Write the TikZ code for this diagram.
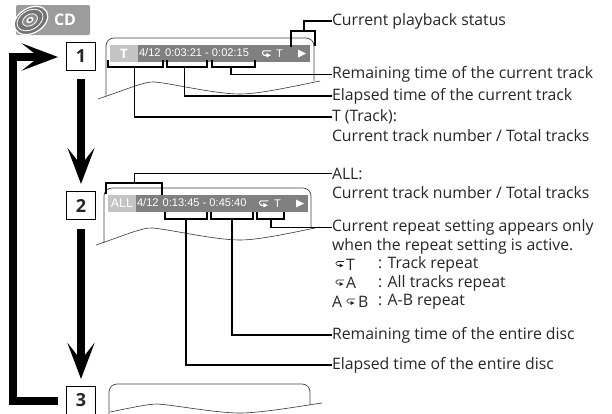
\documentclass[tikz,border=0pt]{standalone}
\usepackage{fontspec}
\setmainfont{Open Sans}
\newfontfamily\barfont{Liberation Sans}
\usetikzlibrary{arrows.meta, positioning}
\definecolor{barGray}{HTML}{808080}
\definecolor{tabGray}{HTML}{C4C4C4}
\definecolor{badgeGray}{HTML}{9C9C9C}
\begin{document}
\begin{tikzpicture}[
        x=1pt, y=-1pt,
        every node/.style={inner sep=0pt, outer sep=0pt},
        numbox/.style={draw, line width=0.9pt, fill=white, minimum width=29pt, minimum height=28pt, font=\fontsize{18}{18}\selectfont\bfseries, text=black!85},
        flow/.style={line width=8pt, -{Stealth[length=36pt, width=27pt, inset=17pt]}},
        leader/.style={line width=1.6pt, line join=miter},
        screen/.style={line width=0.7pt, draw=black!75, rounded corners=8pt},
        wave/.style={line width=0.6pt, draw=black!80},
        bar/.style={fill=barGray, minimum height=17pt, anchor=west},
        tab/.style={fill=tabGray, minimum height=17pt, anchor=west, text=white},
        bartext/.style={anchor=west, text=white, font=\barfont\fontsize{11.1}{11.1}\selectfont},
        lbl/.style={anchor=west, text=black!85, font=\fontsize{15.8}{15.8}\selectfont},
        repmark/.pic={\draw[pic actions, rounded corners=1.5pt] (4,-2) -- (-4,-2) -- (-4,2) -- (0,2);
            \fill[pic actions] (-0.5,0) -- (3.5,2) -- (-0.5,4) -- cycle;}
    ]
        \useasboundingbox (0,0) rectangle (612,413);
        \clip (0,0) rectangle (612,413);

        % CD badge
        \node [fill=badgeGray, rounded corners=2pt, minimum width=74pt, minimum height=30pt] (badge) at (53,20) {};
        \node [anchor=west, text=white, font=\fontsize{16}{16}\selectfont\bfseries] (cd) at (54,20) {CD};
        \draw [draw=white, fill=black!55, line width=1.2pt, rotate around={30:(31,20.5)}] (31,20.5) ellipse [x radius=18pt, y radius=12.5pt];
        \draw [draw=white, line width=0.8pt, rotate around={30:(30,20)}] (30,20) ellipse [x radius=14pt, y radius=9.5pt];
        \draw [draw=white, fill=black!45, line width=0.8pt, rotate around={30:(30,20)}] (30,20) ellipse [x radius=8pt, y radius=5.5pt];
        \fill [white, rotate around={30:(30,20)}] (30,20) ellipse [x radius=4pt, y radius=2.7pt];
        \fill [black!60, rotate around={30:(30,20)}] (30,20) ellipse [x radius=2pt, y radius=1.3pt];

        % number boxes
        \node [numbox] (one) at (81,56) {1};
        \node [numbox] (two) at (81,205.5) {2};
        \node [numbox, minimum height=34pt] (three) at (81,403) {\raisebox{6pt}{3}};

        % thick arrows
        \coordinate (tipOne) at (58,57);
        \draw [flow] (81,79) -- (81,184);
        \draw [flow] (81,229) -- (81,379);
        \draw [flow] (58,401) -- (12.5,401) -- (12.5,57) -- (tipOne);

        % first screen
        \draw [screen] (106,96) -- (106,38) -- (314,38) -- (314,81);
        \draw [wave] (98,99) .. controls (125,90) and (145,81) .. (155,82) .. controls (175,84) and (215,94) .. (240,94) .. controls (260,94) and (295,86) .. (320,81);
        \node [bar, minimum width=200pt] (barA) at (110,53.5) {};
        \node [tab, minimum width=28pt] (tabA) at (110,53.5) {};
        \node [text=white, font=\fontsize{13}{13}\selectfont\bfseries] (trk) at (124,53.5) {T};
        \node [bartext] (timeA) at (139,53) {4/12\hspace{4.5pt}0:03:21 - 0:02:15};
        \pic [white, line width=1.1pt, scale=1.1] at (267,53) {repmark};
        \node [bartext] (repA) at (276,53.5) {T};
        \fill [white] (298,49.5) -- (306,53.5) -- (298,57.5) -- cycle;

        % second screen
        \draw [screen] (104,243) -- (104,188) -- (311,188) -- (311,227);
        \draw [wave] (96,245) .. controls (123,236) and (143,227) .. (153,228) .. controls (173,230) and (215,240) .. (240,240) .. controls (260,240) and (295,232) .. (320,227);
        \node [bar, minimum width=200pt] (barB) at (108,203.5) {};
        \node [tab, minimum width=28pt] (tabB) at (108,203.5) {};
        \node [text=white, font=\barfont\fontsize{12.4}{12.4}\selectfont] (all) at (122,203.5) {ALL};
        \node [bartext] (timeB) at (137,202.5) {4/12\hspace{4pt}0:13:45 - 0:45:40};
        \pic [white, line width=1.1pt, scale=1.1] at (264,203) {repmark};
        \node [bartext] (repB) at (274,203.5) {T};
        \fill [white] (296,199.5) -- (304,203.5) -- (296,207.5) -- cycle;

        % third screen
        \draw [screen] (109,420) -- (109,384) -- (310,384) -- (310,405);
        \draw [wave] (110,412) .. controls (130,408) and (148,404) .. (157,404) .. controls (175,405) and (215,413) .. (240,413) .. controls (260,413) and (295,407) .. (322,403);

        % labels
        \node [lbl] (status) at (332,21) {Current playback status};
        \node [lbl] (remT) at (332,74.5) {Remaining time of the current track};
        \node [lbl] (elaT) at (332,96) {Elapsed time of the current track};
        \node [lbl] (trackA) at (332,117) {T (Track):};
        \node [lbl] (trackB) at (332,136) {Current track number / Total tracks};
        \node [lbl] (allA) at (332,173.5) {ALL:};
        \node [lbl] (allB) at (332,193) {Current track number / Total tracks};
        \node [lbl] (rep) at (332,227.5) {Current repeat setting appears only};
        \node [lbl] (repL) at (332,246) {when the repeat setting is active.};
        \node [lbl] (rT) at (346,264.5) {T};
        \node [lbl] (rTtxt) at (378,264.5) {: Track repeat};
        \node [lbl] (rA) at (346,283) {A};
        \node [lbl] (rAtxt) at (378,283) {: All tracks repeat};
        \node [lbl] (rAB) at (332,302) {A};
        \node [lbl] (rBB) at (358,302) {B};
        \node [lbl] (rABtxt) at (378,302) {: A-B repeat};
        \node [lbl] (remD) at (332,335) {Remaining time of the entire disc};
        \node [lbl] (elaD) at (332,365) {Elapsed time of the entire disc};
        \pic [black!85, line width=0.7pt] at (340,263.5) {repmark};
        \pic [black!85, line width=0.7pt] at (340,282) {repmark};
        \pic [black!85, line width=0.7pt] at (351,301) {repmark};

        % brackets and leaders, screen 1
        \coordinate (brkA) at (134.5,67);
        \coordinate (brkB) at (184.5,67);
        \coordinate (brkC) at (231,67);
        \coordinate (brkD) at (304,31);
        \draw [leader] (108,60) -- (108,67) -- (163,67) -- (163,60);
        \draw [leader] (167,60) -- (167,67) -- (207,67) -- (207,60);
        \draw [leader] (212,60) -- (212,67) -- (255,67) -- (255,60);
        \draw [leader] (291,47) -- (291,31) -- (315,31) -- (315,46);
        \draw [leader] (brkA) |- (trackA.west);
        \draw [leader] (brkB) |- (elaT.west);
        \draw [leader] (brkC) |- (remT.west);
        \draw [leader] (brkD) |- (status.west);

        % brackets and leaders, screen 2
        \coordinate (brkE) at (134.5,183);
        \coordinate (brkF) at (186,219);
        \coordinate (brkG) at (232,219);
        \coordinate (brkH) at (271,219);
        \draw [leader] (106,194) -- (106,183) -- (162,183) -- (162,195);
        \draw [leader] (165,212) -- (165,219) -- (207,219) -- (207,212);
        \draw [leader] (211,212) -- (211,219) -- (253,219) -- (253,212);
        \draw [leader] (257,212) -- (257,219) -- (284,219) -- (284,212);
        \draw [leader] (brkE) |- (allA.west);
        \draw [leader] (brkH) |- (rep.west);
        \draw [leader] (brkG) |- (remD.west);
        \draw [leader] (brkF) |- (elaD.west);
\end{tikzpicture}
\end{document}
